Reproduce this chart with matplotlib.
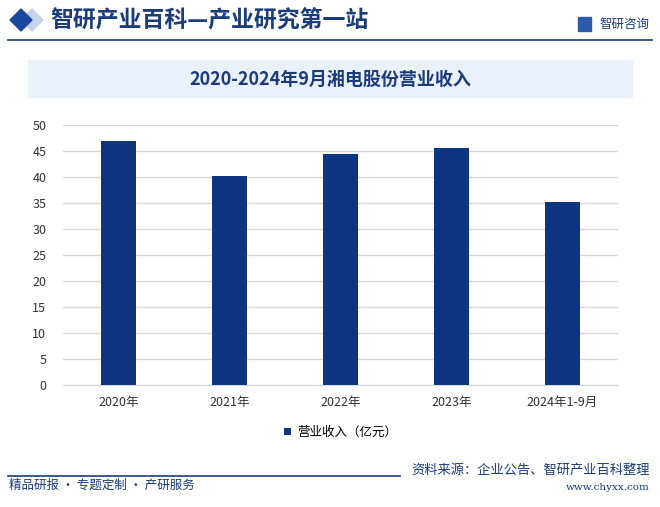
import matplotlib.pyplot as plt
from matplotlib.patches import Rectangle, Polygon

plt.rcParams['font.family'] = ['Noto Sans CJK SC', 'DejaVu Sans']

years = ['2020年', '2021年', '2022年', '2023年', '2024年1-9月']
revenue = [46.9, 40.2, 44.4, 45.6, 35.2]
yticks = [0, 5, 10, 15, 20, 25, 30, 35, 40, 45, 50]

W, H = 660, 507
navy = '#0d3580'
fig = plt.figure(figsize=(6.6, 5.07), dpi=100)


def diamond(cx, cy, r, color):
    pts = [((cx - r) / W, 1 - cy / H), (cx / W, 1 - (cy - r) / H),
           ((cx + r) / W, 1 - cy / H), (cx / W, 1 - (cy + r) / H)]
    fig.patches.append(Polygon(pts, closed=True, transform=fig.transFigure, color=color))


# header
diamond(32, 20, 11, '#c5d3ea')
diamond(21, 20, 11, '#1a47a0')
fig.text(50 / W, 1 - 21 / H, '智研产业百科—产业研究第一站', fontsize=16.5, color='#1a3c7c',
         fontweight='bold', va='center', ha='left')
fig.text(650 / W, 1 - 24 / H, '智研咨询', fontsize=9, color='#1a3c7c', va='center', ha='right')
fig.patches.append(Rectangle((578 / W, 1 - 31 / H), 13 / W, 14 / H, transform=fig.transFigure,
                             color='#2a5caa'))
fig.lines.append(plt.Line2D([8 / W, 652 / W], [1 - 40 / H, 1 - 40 / H], transform=fig.transFigure,
                            color='#1a3c7c', lw=1.2))

# title box
fig.patches.append(Rectangle((28 / W, 1 - 97 / H), 604 / W, 37 / H, transform=fig.transFigure,
                             color='#eaf1fb', zorder=0))
fig.text(330 / W, 1 - 79 / H, '2020-2024年9月湘电股份营业收入', fontsize=13, color='#1a3c7c',
         fontweight='bold', va='center', ha='center')

# chart
ax = fig.add_axes([63 / W, 1 - 385 / H, 555 / W, 260 / H])
x = range(len(years))
ax.bar(x, revenue, width=0.315, color=navy, zorder=3, label='营业收入（亿元）')
ax.set_xlim(-0.5, len(years) - 0.5)
ax.set_ylim(0, 50)
ax.set_yticks(yticks)
ax.set_xticks(list(x))
ax.set_xticklabels(years)
ax.grid(axis='y', color='#d9d9d9', lw=1, zorder=0)
for s in ['top', 'right', 'left']:
    ax.spines[s].set_visible(False)
ax.spines['bottom'].set_color('#d9d9d9')
ax.tick_params(axis='both', length=0, labelsize=9, colors='#333333')
ax.tick_params(axis='y', pad=12)
ax.tick_params(axis='x', pad=8)
ax.legend(loc='upper center', bbox_to_anchor=(0.5, -0.115), frameon=False, fontsize=9,
          handlelength=0.5, handleheight=0.5, handletextpad=0.5)

# footer
fig.lines.append(plt.Line2D([8 / W, 400 / W], [1 - 476 / H, 1 - 476 / H], transform=fig.transFigure,
                            color='#1a3c7c', lw=1.2))
fig.text(650 / W, 1 - 470 / H, '资料来源：企业公告、智研产业百科整理', fontsize=9.5, color='#1a3c7c',
         va='center', ha='right')
fig.text(650 / W, 1 - 487 / H, 'www.chyxx.com', fontsize=7.5, color='#1a3c7c', family='DejaVu Serif',
         va='center', ha='right')
fig.text(9 / W, 1 - 485 / H, '精品研报 · 专题定制 · 产研服务', fontsize=9, color='#1a3c7c',
         va='center', ha='left')

fig.savefig('out.png', dpi=100)
